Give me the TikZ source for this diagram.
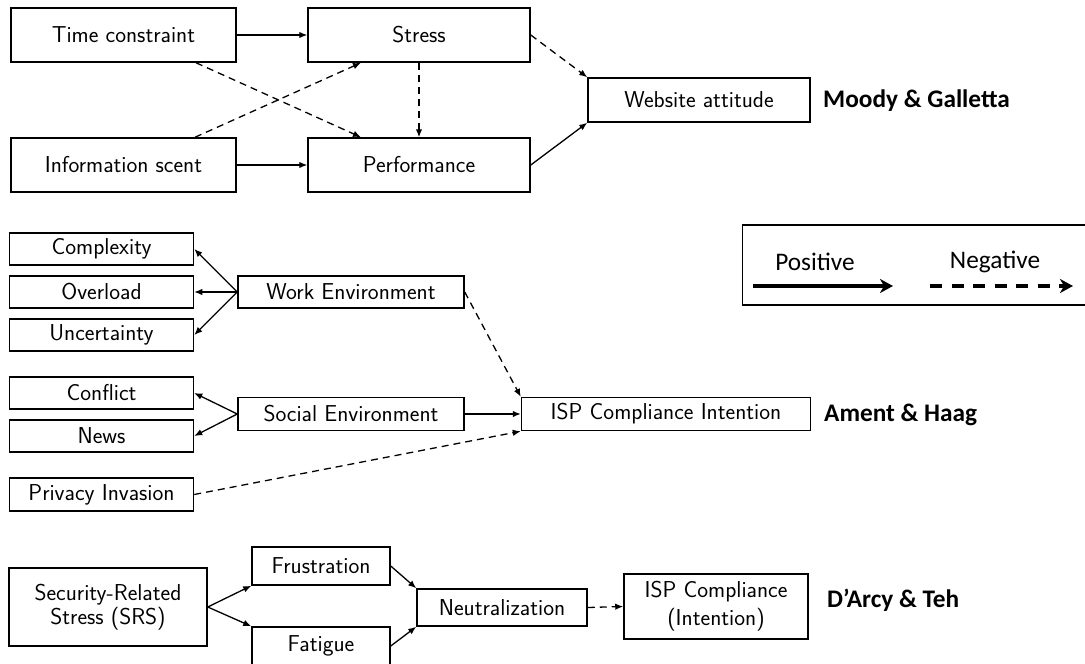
\documentclass[tikz,border=0pt]{standalone}
\usepackage{fontspec}
\newfontfamily\carlito{Carlito}
\usetikzlibrary{arrows.meta}
\tikzset{
  bx/.style={draw, line width=1.5pt, inner sep=0pt, align=center, font=\sffamily\fontsize{23}{27}\selectfont},
  lbl/.style={anchor=west, inner sep=0pt, font=\carlito\bfseries\fontsize{25.3}{30}\selectfont},
  leg/.style={inner sep=0pt, font=\carlito\fontsize{25.3}{30}\selectfont},
  posarr/.style={line width=1.3pt, -{Latex[length=8pt,width=6.5pt]}},
  negarr/.style={posarr, dash pattern=on 7pt off 5pt},
  bigposarr/.style={line width=3.3pt, -{Stealth[length=13pt,width=14pt,inset=4pt]}},
  bignegarr/.style={bigposarr, dash pattern=on 12pt off 9.5pt},
}
\begin{document}
\begin{tikzpicture}[x=1pt,y=-1pt]
\useasboundingbox (0,0) rectangle (1085,664);
\clip (0,0) rectangle (1085,664);
% --- Moody & Galletta
\node[bx, minimum width=225pt, minimum height=54pt] (tc) at (123.5,35) {Time constraint};
\node[bx, minimum width=222pt, minimum height=54pt] (st) at (419,35) {Stress};
\node[bx, minimum width=225pt, minimum height=54pt] (is) at (123.5,165) {Information scent};
\node[bx, minimum width=222pt, minimum height=54pt] (pf) at (419,165) {Performance};
\node[bx, minimum width=222pt, minimum height=44pt] (wa) at (699,100) {Website attitude};
\node[lbl] (mg) at (823,101) {Moody \& Galletta};
\draw[posarr] (tc.east) -- (st.west);
\draw[posarr] (is.east) -- (pf.west);
\draw[negarr] ([xshift=72.5pt]tc.south) -- ([xshift=-58pt]pf.north);
\draw[negarr] ([xshift=71.5pt]is.north) -- ([xshift=-58pt]st.south);
\draw[negarr] (st.south) -- (pf.north);
\draw[negarr] (st.east) -- (wa.north west);
\draw[posarr] (pf.east) -- (wa.south west);
% --- Ament & Haag
\node[bx, minimum width=184pt, minimum height=32pt] (cx) at (101.5,249) {Complexity};
\node[bx, minimum width=184pt, minimum height=32pt] (ov) at (101.5,292) {Overload};
\node[bx, minimum width=184pt, minimum height=32pt] (un) at (101.5,335) {Uncertainty};
\node[bx, minimum width=226pt, minimum height=32pt] (we) at (351,292) {Work Environment};
\node[bx, minimum width=184pt, minimum height=32pt] (cf) at (101.5,393) {Conflict};
\node[bx, minimum width=184pt, minimum height=32pt] (nw) at (101.5,436) {News};
\node[bx, minimum width=226pt, minimum height=33pt] (se) at (351,414) {Social Environment};
\node[bx, minimum width=184pt, minimum height=33pt] (pi) at (101.5,494.5) {Privacy Invasion};
\node[bx, minimum width=289pt, minimum height=33pt] (ci) at (666,414) {ISP Compliance Intention};
\node[lbl] (ah) at (824,415) {Ament \& Haag};
\draw[posarr] (we.west) -- (cx.east);
\draw[posarr] (we.west) -- (ov.east);
\draw[posarr] (we.west) -- (un.east);
\draw[posarr] (se.west) -- (cf.east);
\draw[posarr] (se.west) -- (nw.east);
\draw[posarr] (se.east) -- (ci.west);
\draw[negarr] (we.east) -- (ci.north west);
\draw[negarr] (pi.east) -- (ci.south west);
% --- legend
\draw[line width=1.6pt] (1095,225) -- (742.5,225) -- (742.5,305) -- (1095,305);
\node[leg] (lp) at (815,262) {Positive};
\node[leg] (ln) at (995,262) {Negative};
\coordinate (pa) at (753,286);
\coordinate (pb) at (893,286);
\coordinate (na) at (930,286);
\coordinate (nb) at (1073,286);
\draw[bigposarr] (pa) -- (pb);
\draw[bignegarr] (na) -- (nb);
% --- D'Arcy & Teh
\node[bx, minimum width=198pt, minimum height=78pt, font=\sffamily\fontsize{23}{24}\selectfont] (srs) at (108,607) {Security-Related\\Stress (SRS)};
\node[bx, minimum width=138pt, minimum height=38pt] (fr) at (321,566) {Frustration};
\node[bx, minimum width=138pt, minimum height=38pt] (fa) at (321,646) {Fatigue};
\node[bx, minimum width=170pt, minimum height=37pt] (ne) at (502,607.5) {Neutralization};
\node[bx, minimum width=184pt, minimum height=65pt, font=\sffamily\fontsize{23}{28}\selectfont] (ic) at (716,606.5) {ISP Compliance\\(Intention)};
\node[lbl] (dt) at (827,600) {D’Arcy \& Teh};
\draw[posarr] (srs.east) -- (fr.south west);
\draw[posarr] (srs.east) -- (fa.north west);
\draw[posarr] (fr.east) -- (ne.north west);
\draw[posarr] (fa.east) -- (ne.south west);
\draw[negarr] (ne.east) -- (ic.west);
\end{tikzpicture}
\end{document}
